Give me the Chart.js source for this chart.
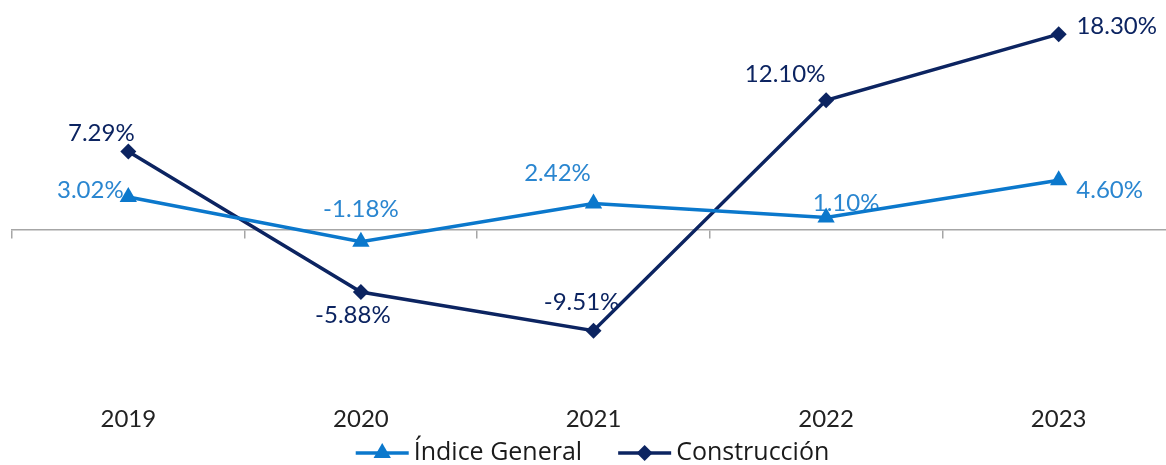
<!doctype html>
<html>
<head>
  <meta charset="utf-8">
  <script src="https://cdn.jsdelivr.net/npm/chart.js@4.4.0/dist/chart.umd.min.js"></script>
  <style>
    html, body { margin: 0; padding: 0; background: #fff; overflow: hidden; }
    #wrap { width: 1166px; height: 465px; overflow: hidden; }
  </style>
</head>
<body>
  <div id="wrap"><canvas id="myChart" width="1185" height="465"></canvas></div>
  <script>
    const years = ['2019', '2020', '2021', '2022', '2023'];
    const indiceGeneral = [3.02, -1.18, 2.42, 1.10, 4.60];
    const construccion = [7.29, -5.88, -9.51, 12.10, 18.30];

    const BLUE = '#0b78cc';
    const NAVY = '#0c2461';
    const FONT = 'Lato, "Open Sans", sans-serif';
    const LEGEND_FONT = '25px "Open Sans", Lato, sans-serif';

    // donde va cada etiqueta respecto a su punto (dx, dy en px)
    const labelOffsets = {
      0: [[-38, -7], [0, -33], [-36, -30], [20, -14], [51, 10]],
      1: [[-27, -18], [-8, 23], [-12, -28], [-41, -26], [58, -8]]
    };
    const labelColors = ['#2a86d0', NAVY];

    const dataLabels = {
      id: 'dataLabels',
      beforeDatasetsDraw(chart) {
        const ctx = chart.ctx;
        ctx.save();
        ctx.font = '24px ' + FONT;
        ctx.textAlign = 'center';
        ctx.textBaseline = 'middle';
        chart.data.datasets.forEach((ds, i) => {
          const meta = chart.getDatasetMeta(i);
          meta.data.forEach((pt, j) => {
            const [dx, dy] = labelOffsets[i][j];
            ctx.fillStyle = labelColors[i];
            ctx.fillText(ds.data[j].toFixed(2) + '%', pt.x + dx, pt.y + dy);
          });
        });
        ctx.restore();
      }
    };

    // leyenda dibujada a mano: linea + marcador + texto
    const lineLegend = {
      id: 'lineLegend',
      afterDraw(chart) {
        const ctx = chart.ctx;
        const iconW = 53, textGap = 5, itemGap = 36, y = 453;
        ctx.save();
        ctx.font = LEGEND_FONT;
        ctx.textBaseline = 'middle';
        const items = chart.data.datasets.map(ds => ({ ds, w: ctx.measureText(ds.label).width }));
        let total = items.reduce((s, it) => s + iconW + textGap + it.w, 0) + itemGap * (items.length - 1);
        let x = chart.width / 2 - total / 2;
        items.forEach(({ ds, w }) => {
          ctx.strokeStyle = ds.borderColor;
          ctx.fillStyle = ds.borderColor;
          ctx.lineWidth = 3.5;
          ctx.beginPath(); ctx.moveTo(x, y); ctx.lineTo(x + iconW, y); ctx.stroke();
          Chart.helpers.drawPoint(ctx, { pointStyle: ds.pointStyle, radius: ds.pointRadius, borderWidth: 0 }, x + iconW / 2, y);
          ctx.fillStyle = '#1a1a1a';
          ctx.fillText(ds.label, x + iconW + textGap, y);
          x += iconW + textGap + w + itemGap;
        });
        ctx.restore();
      }
    };

    const ctx = document.getElementById('myChart').getContext('2d');
    new Chart(ctx, {
      type: 'line',
      data: {
        labels: years,
        datasets: [{
          label: 'Índice General',
          data: indiceGeneral,
          borderColor: BLUE,
          backgroundColor: BLUE,
          borderWidth: 3.5,
          pointStyle: 'triangle',
          pointRadius: 10,
          pointBorderWidth: 0,
          tension: 0
        }, {
          label: 'Construcción',
          data: construccion,
          borderColor: NAVY,
          backgroundColor: NAVY,
          borderWidth: 3.5,
          pointStyle: 'rectRot',
          pointRadius: 8,
          pointBorderWidth: 0,
          tension: 0
        }]
      },
      options: {
        responsive: false,
        animation: false,
        layout: { padding: { left: 12, right: 0, top: 16, bottom: 23 } },
        scales: {
          x: {
            offset: true,
            grid: { display: false },
            border: { display: false },
            ticks: { color: '#222', font: { family: FONT, size: 24 }, padding: 8 }
          },
          xAxis0: {
            type: 'category',
            labels: years,
            position: { y: 0 },
            offset: true,
            grid: { offset: true, drawOnChartArea: false, drawTicks: true, tickLength: 8, color: '#a6a6a6', lineWidth: 1.5 },
            border: { display: true, color: '#a6a6a6', width: 1.5 },
            ticks: { display: false }
          },
          y: {
            display: false,
            min: -15,
            max: 20
          }
        },
        plugins: {
          legend: { display: false },
          tooltip: { enabled: false }
        }
      },
      plugins: [dataLabels, lineLegend]
    });
  </script>
</body>
</html>
